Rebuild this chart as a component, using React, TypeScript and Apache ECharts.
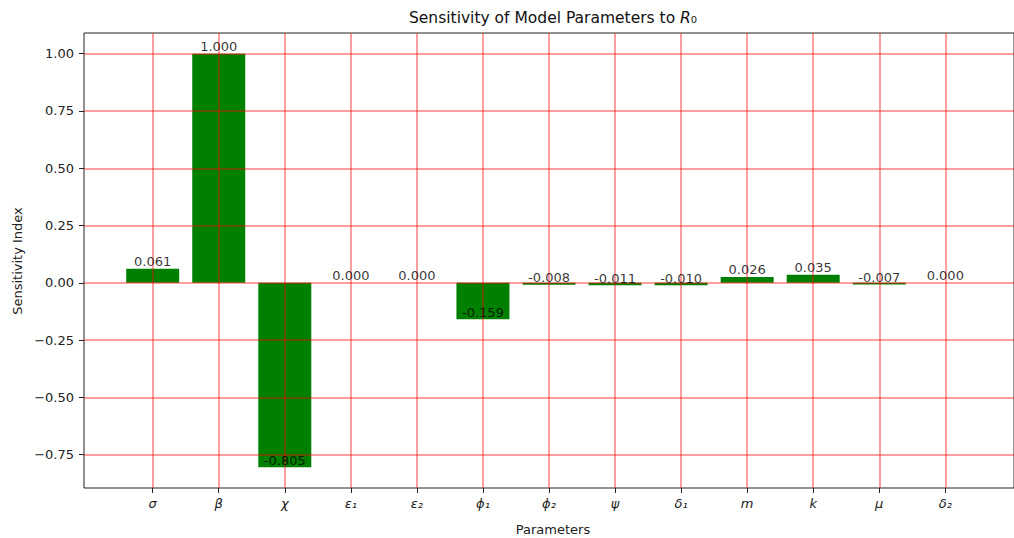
import React, { useEffect, useRef } from 'react';
import * as echarts from 'echarts';

const categories = ['σ', 'β', 'χ', 'ε₁', 'ε₂', 'ϕ₁', 'ϕ₂', 'ψ', 'δ₁', 'm', 'k', 'μ', 'δ₂'];
const sensitivity = [0.061, 1.0, -0.805, 0.0, 0.0, -0.159, -0.008, -0.011, -0.01, 0.026, 0.035, -0.007, 0.0];
const yTicks = [-0.75, -0.5, -0.25, 0, 0.25, 0.5, 0.75, 1.0];
const xLimits = [-1.04, 13.04];
const yLimits = [-0.8953, 1.0903];

const FONT = 'DejaVu Sans';

export default function App() {
  const ref = useRef<HTMLDivElement>(null);
  useEffect(() => {
    if (!ref.current) return;
    const chart = echarts.init(ref.current, undefined, { renderer: 'svg' });
    const idx = categories.map((_, i) => i);
    const points = sensitivity.map((v, i) => [i, v]);
    const gridColor = 'rgba(255,0,0,0.38)';
    chart.setOption({
      animation: false,
      backgroundColor: '#ffffff',
      textStyle: { fontFamily: FONT },
      grid: {
        left: 84,
        top: 33,
        width: 939,
        height: 455,
        show: true,
        borderColor: '#222',
        borderWidth: 1,
        backgroundColor: 'transparent',
      },
      xAxis: {
        type: 'value',
        min: xLimits[0],
        max: xLimits[1],
        z: 3,
        axisLine: { show: false, onZero: false },
        splitLine: { show: true, lineStyle: { color: gridColor, width: 2 } },
        axisTick: { show: true, customValues: idx, length: 5, lineStyle: { color: '#222' } },
        axisLabel: {
          customValues: idx,
          formatter: (v: number) => categories[Math.round(v)] ?? '',
          fontFamily: FONT,
          fontStyle: 'italic',
          fontSize: 13,
          color: '#222',
          margin: 9,
        },
      },
      yAxis: {
        type: 'value',
        min: yLimits[0],
        max: yLimits[1],
        z: 3,
        axisLine: { show: false, onZero: false },
        splitLine: { show: true, lineStyle: { color: gridColor, width: 2 } },
        axisTick: { show: true, customValues: yTicks, length: 5, lineStyle: { color: '#222' } },
        axisLabel: {
          customValues: yTicks,
          formatter: (v: number) => (v < 0 ? '\u2212' + Math.abs(v).toFixed(2) : v.toFixed(2)),
          fontFamily: FONT,
          fontSize: 13,
          color: '#222',
          margin: 10,
        },
      },
      series: [
        {
          type: 'bar',
          data: points,
          barWidth: 53,
          itemStyle: { color: '#008000' },
          z: 2,
        },
        {
          type: 'scatter',
          data: points,
          symbolSize: 1,
          itemStyle: { color: 'rgba(0,0,0,0)' },
          z: 4,
          label: {
            show: true,
            position: 'top',
            distance: 0,
            formatter: (p: any) => p.value[1].toFixed(3),
            fontFamily: FONT,
            fontSize: 13,
            color: '#000',
          },
        },
      ],
      graphic: [
        {
          type: 'text',
          x: 553,
          y: 18,
          style: {
            text: 'Sensitivity of Model Parameters to {i|R}{s|₀}',
            fontFamily: FONT,
            fontSize: 15.5,
            fill: '#111',
            align: 'center',
            verticalAlign: 'middle',
            rich: {
              i: { fontFamily: FONT, fontSize: 15.5, fontStyle: 'italic', fill: '#111' },
              s: { fontFamily: FONT, fontSize: 15.5, fill: '#111' },
            },
          },
        },
        {
          type: 'text',
          x: 553,
          y: 529,
          style: {
            text: 'Parameters',
            fontFamily: FONT,
            fontSize: 13,
            fill: '#222',
            align: 'center',
            verticalAlign: 'middle',
          },
        },
        {
          type: 'text',
          x: 17,
          y: 261,
          rotation: Math.PI / 2,
          style: {
            text: 'Sensitivity Index',
            fontFamily: FONT,
            fontSize: 13,
            fill: '#222',
            align: 'center',
            verticalAlign: 'middle',
          },
        },
      ],
    });
    return () => chart.dispose();
  }, []);
  return (
    <div
      ref={ref}
      style={{ position: 'fixed', left: 0, top: 0, width: 1014, height: 538 }}
    />
  );
}
